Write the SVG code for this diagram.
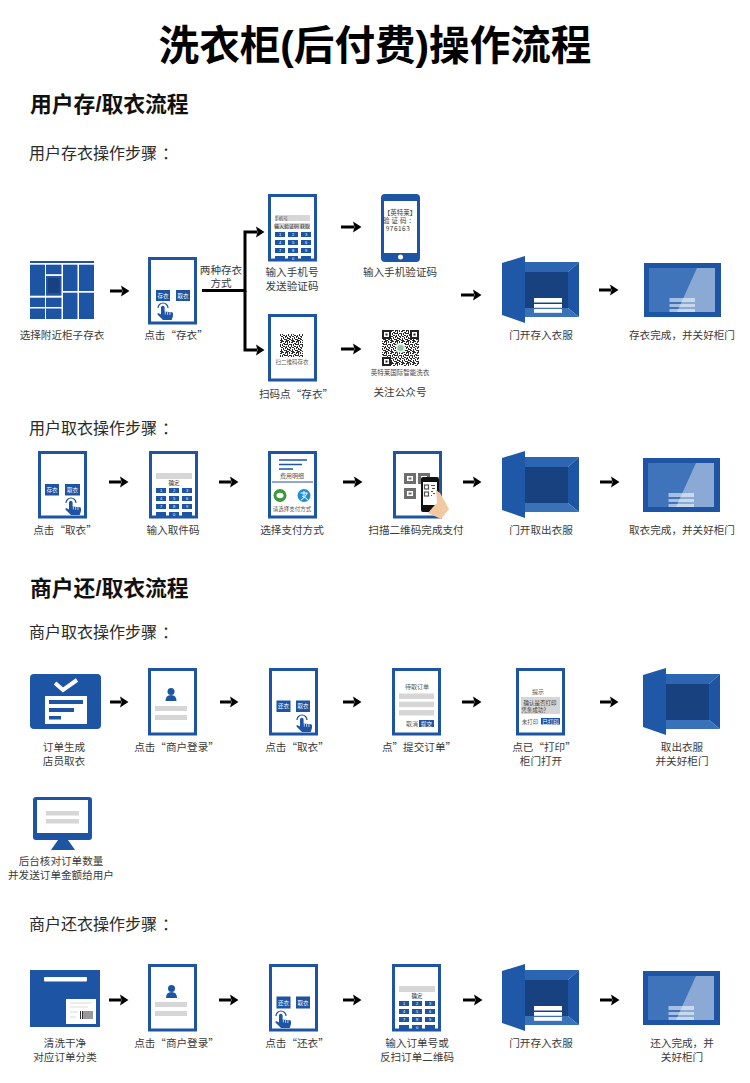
<svg xmlns="http://www.w3.org/2000/svg" width="750" height="1083" viewBox="0 0 750 1083">
<style>
text{font-family:"Noto Sans CJK SC",sans-serif;fill:#3a3a3a;text-anchor:middle}
.title{font-family:"Liberation Sans","Noto Sans CJK SC",sans-serif;font-size:40.600px;font-weight:700;fill:#000}
.h1{font-family:"Liberation Sans","Noto Sans CJK SC",sans-serif;font-size:21.800px;font-weight:700;fill:#111;text-anchor:start}
.h2{font-size:16px;fill:#2a2a2a;text-anchor:start}
.lb{font-size:10.600px}
.btn{font-size:5.500px;fill:#fff}
.sm{font-size:5.500px;fill:#555}
.key{font-family:"Liberation Sans",sans-serif;font-size:4px;fill:#fff}
.frame{fill:#fff;stroke:#1d54a4;stroke-width:3}
.b{fill:#1d54a4}
.g{fill:#d6d6d6}
.w{fill:#fff}
.arrow{stroke:#000;stroke-width:3;fill:none}
</style>
<defs>
<marker id="ah" markerUnits="userSpaceOnUse" markerWidth="9" markerHeight="12" refX="1" refY="6" orient="auto"><path d="M0,0.500 L8.500,6 L0,11.500 L1.500,6Z" fill="#000"/></marker>
<pattern id="qr" width="11" height="11" patternUnits="userSpaceOnUse"><rect width="11" height="11" fill="#fff"/><path d="M0,0h2v1h-2zM3,0h1v2h-1zM6,0h3v1h-3zM10,0h1v2h-1zM1,1h1v2h-1zM5,1h2v1h-2zM8,2h2v1h-2zM0,3h2v1h-2zM3,3h3v1h-3zM7,3h1v2h-1zM9,3h2v1h-2zM2,4h1v2h-1zM5,4h1v2h-1zM0,5h1v2h-1zM8,5h2v1h-2zM3,6h2v1h-2zM6,6h2v1h-2zM10,6h1v2h-1zM1,7h1v2h-1zM4,7h1v1h-1zM8,7h1v2h-1zM2,8h2v1h-2zM6,8h1v2h-1zM0,9h1v2h-1zM3,9h2v1h-2zM9,9h2v1h-2zM1,10h2v1h-2zM5,10h3v1h-3z" fill="#2b2b2b"/></pattern>
<g id="frame"><rect class="frame" x="1.500" y="1.500" width="46" height="64.500"/></g>
<g id="hand"><path d="M1,6 A5,5 0 1 1 11,6" fill="none" stroke="#1d54a4" stroke-width="1.200"/><path d="M4,5.500 a1.800,1.800 0 0 1 3.600,0 V9.500 l7.400,.8 q1,.2 1,1.500 V14 l-1.300,4 H6 L.5,12.500 q-.5,-1.500 1.200,-1.300 L4,12.500Z" fill="#1d54a4"/><path d="M8.300,9.500v3M10.600,9.800v3M12.900,10v3" stroke="#fff" stroke-width=".7"/></g>
<g id="keys">
<rect class="b" x="0" y="0" width="10" height="5"/><rect class="b" x="13" y="0" width="10" height="5"/><rect class="b" x="26" y="0" width="10" height="5"/>
<rect class="b" x="0" y="8" width="10" height="5"/><rect class="b" x="13" y="8" width="10" height="5"/><rect class="b" x="26" y="8" width="10" height="5"/>
<rect class="b" x="0" y="16" width="10" height="5"/><rect class="b" x="13" y="16" width="10" height="5"/><rect class="b" x="26" y="16" width="10" height="5"/>
<rect class="b" x="0" y="24" width="10" height="4"/><rect class="b" x="13" y="24" width="10" height="4"/><rect class="b" x="26" y="24" width="10" height="4"/>
<text class="key" x="5" y="4">1</text><text class="key" x="18" y="4">2</text><text class="key" x="31" y="4">3</text>
<text class="key" x="5" y="12">4</text><text class="key" x="18" y="12">5</text><text class="key" x="31" y="12">6</text>
<text class="key" x="5" y="20">7</text><text class="key" x="18" y="20">8</text><text class="key" x="31" y="20">9</text>
<text class="key" x="18" y="27.500">0</text>
</g>
<g id="cabinet">
<polygon points="0,7 23,0 23,67 0,59" fill="#1f58a6"/>
<polygon points="23,6 77,6 66,16 23,16" fill="#2c66b2"/>
<polygon points="77,6 77,61 66,52 66,16" fill="#1d54a4"/>
<polygon points="23,52 66,52 77,61 23,61" fill="#3a72ba"/>
<rect x="23" y="16" width="43" height="36" fill="#17427f"/>
</g>
<g id="stack"><rect class="w" x="0" y="0" width="28" height="4.500"/><rect class="w" x="0" y="6" width="28" height="3.800"/><rect class="w" x="0" y="11" width="28" height="3.800"/></g>
<g id="closed">
<rect class="b" width="77" height="54"/>
<rect x="5" y="5" width="66" height="44" fill="#3f74ba"/>
<polygon points="53,5 71,5 71,49 33,49" fill="#8aa9d4"/>
<g fill="#fff" opacity=".55"><rect x="25.500" y="35" width="25.500" height="4"/><rect x="25.500" y="41" width="25.500" height="3"/><rect x="25.500" y="46" width="25.500" height="3"/></g>
</g>
<g id="person"><circle cx="0" cy="-3.500" r="3.500" class="b"/><path d="M-5.500,6 q0,-6 5.500,-6 q5.500,0 5.500,6Z" class="b"/></g>
</defs>

<rect width="750" height="1083" fill="#fff"/>
<text class="title" x="375" y="60">洗衣柜(后付费)操作流程</text>
<text class="h1" x="30" y="112">用户存/取衣流程</text>
<text class="h2" x="29" y="159">用户存衣操作步骤<tspan dx="5">&#xFF1A;</tspan></text>
<text class="h2" x="29" y="434">用户取衣操作步骤<tspan dx="5">&#xFF1A;</tspan></text>
<text class="h1" x="30" y="596">商户还/取衣流程</text>
<text class="h2" x="29" y="638">商户取衣操作步骤<tspan dx="5">&#xFF1A;</tspan></text>
<text class="h2" x="29" y="930">商户还衣操作步骤<tspan dx="5">&#xFF1A;</tspan></text>

<g id="connectors">
<path class="arrow" d="M202,290.500H245V232H257" marker-end="url(#ah)"/>
<path class="arrow" d="M245,290.500V350H257" marker-end="url(#ah)"/>
<line class="arrow" x1="110" y1="291" x2="122" y2="291" marker-end="url(#ah)"/>
<line class="arrow" x1="341" y1="227" x2="354" y2="227" marker-end="url(#ah)"/>
<line class="arrow" x1="341" y1="349" x2="354" y2="349" marker-end="url(#ah)"/>
<line class="arrow" x1="461" y1="295" x2="474" y2="295" marker-end="url(#ah)"/>
<line class="arrow" x1="599" y1="290" x2="611" y2="290" marker-end="url(#ah)"/>
<line class="arrow" x1="109" y1="482" x2="121" y2="482" marker-end="url(#ah)"/>
<line class="arrow" x1="219" y1="482" x2="231" y2="482" marker-end="url(#ah)"/>
<line class="arrow" x1="343" y1="482" x2="355" y2="482" marker-end="url(#ah)"/>
<line class="arrow" x1="463" y1="482" x2="474" y2="482" marker-end="url(#ah)"/>
<line class="arrow" x1="600" y1="482" x2="612" y2="482" marker-end="url(#ah)"/>
<line class="arrow" x1="110" y1="702" x2="121" y2="702" marker-end="url(#ah)"/>
<line class="arrow" x1="220" y1="702" x2="231" y2="702" marker-end="url(#ah)"/>
<line class="arrow" x1="343" y1="702" x2="354" y2="702" marker-end="url(#ah)"/>
<line class="arrow" x1="462" y1="702" x2="474" y2="702" marker-end="url(#ah)"/>
<line class="arrow" x1="600" y1="702" x2="611" y2="702" marker-end="url(#ah)"/>
<line class="arrow" x1="109" y1="1000" x2="121" y2="1000" marker-end="url(#ah)"/>
<line class="arrow" x1="219" y1="1000" x2="231" y2="1000" marker-end="url(#ah)"/>
<line class="arrow" x1="343" y1="1000" x2="354" y2="1000" marker-end="url(#ah)"/>
<line class="arrow" x1="463" y1="1000" x2="475" y2="1000" marker-end="url(#ah)"/>
<line class="arrow" x1="600" y1="1000" x2="612" y2="1000" marker-end="url(#ah)"/>
</g>
<text class="lb" x="221" y="274">两种存衣</text>
<text class="lb" x="221" y="287">方式</text>

<g id="n-locker">
<rect class="b" x="30" y="261" width="64" height="2"/>
<rect class="b" x="30" y="264.700" width="15" height="31"/><rect class="b" x="46" y="264.700" width="15.500" height="9.500"/><rect class="b" x="46" y="276" width="15.500" height="19.700"/>
<rect x="48" y="278" width="11.500" height="15" fill="#17427f"/>
<rect class="b" x="63" y="264.700" width="14.500" height="26.300"/><rect class="b" x="79" y="264.700" width="15" height="26.300"/>
<rect class="b" x="30" y="297.700" width="15" height="9.300"/><rect class="b" x="46" y="297.700" width="15.500" height="9.300"/>
<rect class="b" x="30" y="308.500" width="15" height="10.500"/><rect class="b" x="46" y="308.500" width="15.500" height="10.500"/>
<rect class="b" x="63" y="292.700" width="14.500" height="26.300"/><rect class="b" x="79" y="292.700" width="15" height="26.300"/>
<text class="lb" x="62" y="339">选择附近柜子存衣</text>
</g>
<g id="n-click-store">
<use href="#frame" x="148" y="257"/>
<rect class="b" x="156" y="290" width="14" height="11"/><rect class="b" x="176" y="290" width="14" height="11"/>
<text class="btn" x="163" y="297.500">存衣</text><text class="btn" x="183" y="297.500">取衣</text>
<use href="#hand" x="157" y="302"/>
<text class="lb" x="176" y="339">点击“存衣”</text>
</g>
<g id="n-input-phone">
<use href="#frame" x="268" y="194"/>
<rect class="g" x="275" y="215" width="35" height="6"/><rect class="g" x="275" y="223" width="35" height="6"/>
<text class="sm" x="281" y="220" style="font-size:4.500px">手机号</text>
<text class="sm" x="292" y="228" style="font-size:5px;fill:#222">输入验证码 获取</text>
<g transform="translate(275,232)"><use href="#keys"/></g>
<text class="lb" x="292" y="276">输入手机号</text><text class="lb" x="292" y="290">发送验证码</text>
</g>
<g id="n-scan-store">
<use href="#frame" x="268" y="314"/>
<rect x="280" y="334" width="23" height="23" fill="url(#qr)"/>
<text class="sm" x="292" y="364">扫二维码存衣</text>
<text class="lb" x="296" y="398">扫码点“存衣”</text>
</g>
<g id="n-sms">
<rect class="b" x="381" y="194" width="39" height="68" rx="4"/>
<rect class="w" x="384" y="201" width="33" height="52"/>
<circle class="w" cx="400.500" cy="257" r="2.500"/>
<text x="400" y="215" style="font-size:6.500px">【英特莱】</text>
<text x="400" y="223" style="font-size:6.500px;letter-spacing:2px">验证码&#xFF1A;</text>
<text x="398" y="231" style="font-size:6.500px;letter-spacing:.5px">976163</text>
<text class="lb" x="400" y="276">输入手机验证码</text>
</g>
<g id="n-follow">
<rect x="382" y="330" width="37" height="36" fill="url(#qr)"/>
<g fill="#fff" stroke="#222" stroke-width="2"><rect x="383" y="331" width="7" height="7"/><rect x="411" y="331" width="7" height="7"/><rect x="383" y="358" width="7" height="7"/></g>
<rect x="385.500" y="333.500" width="2" height="2" fill="#222"/><rect x="413.500" y="333.500" width="2" height="2" fill="#222"/><rect x="385.500" y="360.500" width="2" height="2" fill="#222"/>
<rect x="396" y="343.500" width="9" height="9" rx="2" fill="#e6f0e8"/><circle cx="400.500" cy="348" r="3" fill="#8fc7a0"/>
<text x="400" y="375" style="font-size:6.500px;fill:#444">英特莱国际智能洗衣</text>
<text class="lb" x="400" y="396">关注公众号</text>
</g>
<g id="n-door-in">
<use href="#cabinet" x="502" y="256"/><use href="#stack" x="534" y="298"/>
<text class="lb" x="541" y="339">门开存入衣服</text>
</g>
<g id="n-done-in">
<use href="#closed" x="644" y="263"/>
<text class="lb" x="682" y="339">存衣完成&#xFF0C;并关好柜门</text>
</g>

<g id="n-click-take">
<use href="#frame" x="38" y="451"/>
<rect class="b" x="45" y="484" width="14" height="11.500"/><rect class="b" x="65" y="484" width="15" height="11.500"/>
<text class="btn" x="52" y="491.500">存衣</text><text class="btn" x="72.500" y="491.500">取衣</text>
<use href="#hand" x="65" y="497"/>
<text class="lb" x="65" y="534">点击“取衣”</text>
</g>
<g id="n-pickup-code">
<use href="#frame" x="149" y="451"/>
<rect class="g" x="156" y="473" width="36" height="6"/>
<text class="sm" x="174" y="485" style="fill:#222">确定</text>
<g transform="translate(156,488)"><use href="#keys"/></g>
<text class="lb" x="173" y="534">输入取件码</text>
</g>
<g id="n-pay">
<use href="#frame" x="268" y="451"/>
<path d="M279,460H307M279,464.500H302M279,469H293" stroke="#1d54a4" stroke-width="1.500"/>
<text class="sm" x="292" y="478" style="font-size:6px">费用明细</text>
<line x1="272" y1="482" x2="313" y2="482" stroke="#1d54a4" stroke-width="1"/>
<circle cx="280" cy="495.500" r="6.500" fill="#3a9a3a"/><ellipse cx="280" cy="495.500" rx="3.500" ry="2.800" fill="#fff"/>
<circle cx="304" cy="495.500" r="6.500" fill="#1e90d8"/><path d="M300.500,493H307.500M304,491V496M301,500Q306,497 307,493M302,496Q305,497 308,500" stroke="#fff" stroke-width="1" fill="none"/>
<text class="sm" x="292" y="511">请选择支付方式</text>
<text class="lb" x="292" y="534">选择支付方式</text>
</g>
<g id="n-scanpay">
<use href="#frame" x="393" y="451"/>
<g fill="none" stroke="#6e6e6e" stroke-width="3"><rect x="405.500" y="474.500" width="9" height="8"/><rect x="405.500" y="489.500" width="9" height="8"/><rect x="419.500" y="474.500" width="9" height="8"/></g>
<rect x="408.500" y="477.500" width="3" height="2" fill="#6e6e6e"/><rect x="408.500" y="492.500" width="3" height="2" fill="#6e6e6e"/>
<rect x="421" y="477" width="18" height="35" rx="2" fill="#111"/>
<rect x="423" y="482" width="14" height="23" fill="#fff"/>
<g fill="none" stroke="#555" stroke-width="1.200"><rect x="424.500" y="485" width="4" height="4"/><rect x="424.500" y="492" width="4" height="4"/></g>
<path d="M431,485h4v1h-4zM432,488h3v1h-3zM431,491h2v1h-2zM433,493h2v1h-2zM431,495h1v1h-1z" fill="#555"/>
<path d="M436,490 L440,493 L449,509 L441,519 L428,513 L433,507 L437,503Z" fill="#f2c9a0"/>
<text class="lb" x="416" y="534">扫描二维码完成支付</text>
</g>
<g id="n-door-out">
<use href="#cabinet" x="502" y="451"/>
<text class="lb" x="541" y="534">门开取出衣服</text>
</g>
<g id="n-done-out">
<use href="#closed" x="643" y="458"/>
<text class="lb" x="682" y="534">取衣完成&#xFF0C;并关好柜门</text>
</g>

<g id="n-order">
<rect class="b" x="30" y="674" width="71" height="55" rx="4"/>
<polyline points="55,683 63,690 77,680" fill="none" stroke="#fff" stroke-width="4"/>
<rect class="w" x="45" y="696" width="42" height="28"/>
<rect class="b" x="49" y="700" width="34" height="4"/><rect class="b" x="49" y="708" width="25" height="4"/><rect class="b" x="49" y="716" width="12" height="3.500"/>
<text class="lb" x="64" y="751">订单生成</text><text class="lb" x="64" y="765">店员取衣</text>
</g>
<g id="n-login-a">
<use href="#frame" x="148" y="668"/>
<use href="#person" x="171" y="695"/>
<rect class="g" x="155" y="706" width="32" height="5"/><rect class="g" x="155" y="715" width="32" height="5"/>
<text class="lb" x="176.500" y="751">点击“商户登录”</text>
</g>
<g id="n-take-a">
<use href="#frame" x="269" y="668"/>
<rect class="b" x="276.500" y="700.500" width="14" height="11.500"/><rect class="b" x="296" y="700.500" width="14" height="11.500"/>
<text class="btn" x="283.500" y="708">还衣</text><text class="btn" x="303" y="708">取衣</text>
<use href="#hand" x="296" y="714"/>
<text class="lb" x="297" y="751">点击“取衣”</text>
</g>
<g id="n-submit">
<use href="#frame" x="392" y="668"/>
<text class="sm" x="417" y="689" style="font-size:6px">待取订单</text>
<rect class="g" x="399" y="693.500" width="35" height="5.500"/><rect class="g" x="399" y="701.700" width="35" height="5.500"/><rect class="g" x="399" y="710" width="35" height="5.500"/>
<text class="sm" x="412" y="726" style="font-size:6px">取消</text>
<rect class="b" x="419" y="720" width="15" height="7"/><text class="btn" x="426.500" y="725.500">提交</text>
<text class="lb" x="419" y="751">点”提交订单”</text>
</g>
<g id="n-print">
<use href="#frame" x="516" y="668"/>
<text class="sm" x="538" y="694" style="font-size:6px">提示</text>
<rect class="g" x="521" y="697" width="39" height="17"/>
<text x="540" y="704.500" style="font-size:5.500px">确认是否打印</text><text x="535" y="711.500" style="font-size:5.500px">凭条成功&#xFF1F;</text>
<text class="sm" x="530" y="723.500">未打印</text>
<rect class="b" x="541" y="718" width="19" height="6.500"/><text class="btn" x="550.500" y="723.500">已打印</text>
<text class="lb" x="544" y="751">点已“打印”</text><text class="lb" x="541" y="765">柜门打开</text>
</g>
<g id="n-door-empty">
<use href="#cabinet" x="643" y="668"/>
<text class="lb" x="682" y="751">取出衣服</text><text class="lb" x="682" y="765">并关好柜门</text>
</g>
<g id="n-monitor">
<rect class="b" x="33" y="797" width="59" height="43" rx="3"/>
<rect class="w" x="37" y="800" width="51" height="33"/>
<path d="M58,840H68L75,850H51Z" class="b"/>
<rect class="g" x="46" y="811" width="33" height="4.500"/><rect class="g" x="46" y="819" width="33" height="4.500"/>
<text class="lb" x="61" y="865">后台核对订单数量</text><text class="lb" x="61" y="879">并发送订单金额给用户</text>
</g>

<g id="n-package">
<rect class="b" x="30" y="970" width="70" height="57"/>
<rect class="w" x="44" y="977" width="43" height="4.500" rx="1"/>
<rect class="w" x="66" y="999" width="30" height="25"/>
<path d="M70,1003H92M70,1007H88M70,1012H78M70,1017H76" stroke="#ccc" stroke-width=".7"/>
<path d="M80.500,1011v8M82.500,1011v8M84,1011v8M86,1011v8M88,1011v8M90,1011v8M92,1011v8" stroke="#333" stroke-width="1"/>
<text class="lb" x="65" y="1047">清洗干净</text><text class="lb" x="65" y="1061">对应订单分类</text>
</g>
<g id="n-login-b">
<use href="#frame" x="148" y="964"/>
<use href="#person" x="171.500" y="992"/>
<rect class="g" x="155" y="1002" width="32" height="5"/><rect class="g" x="155" y="1011" width="32" height="5"/>
<text class="lb" x="176.500" y="1047">点击“商户登录”</text>
</g>
<g id="n-return">
<use href="#frame" x="269" y="964"/>
<rect class="b" x="276.500" y="996.500" width="14" height="12"/><rect class="b" x="296" y="996.500" width="14" height="12"/>
<text class="btn" x="283.500" y="1004.500">还衣</text><text class="btn" x="303" y="1004.500">取衣</text>
<use href="#hand" x="275" y="1010"/>
<text class="lb" x="297" y="1047">点击“还衣”</text>
</g>
<g id="n-order-code">
<use href="#frame" x="392" y="964"/>
<rect class="g" x="399" y="986" width="36" height="6"/>
<text class="sm" x="417" y="998" style="fill:#222">确定</text>
<g transform="translate(399,1001)"><use href="#keys"/></g>
<text class="lb" x="417" y="1047">输入订单号或</text><text class="lb" x="417" y="1061">反扫订单二维码</text>
</g>
<g id="n-door-return">
<use href="#cabinet" x="502" y="964"/><use href="#stack" x="534" y="1006"/>
<text class="lb" x="541" y="1047">门开存入衣服</text>
</g>
<g id="n-done-return">
<use href="#closed" x="643" y="971"/>
<text class="lb" x="682" y="1047">还入完成&#xFF0C;并</text><text class="lb" x="682" y="1061">关好柜门</text>
</g>
</svg>
